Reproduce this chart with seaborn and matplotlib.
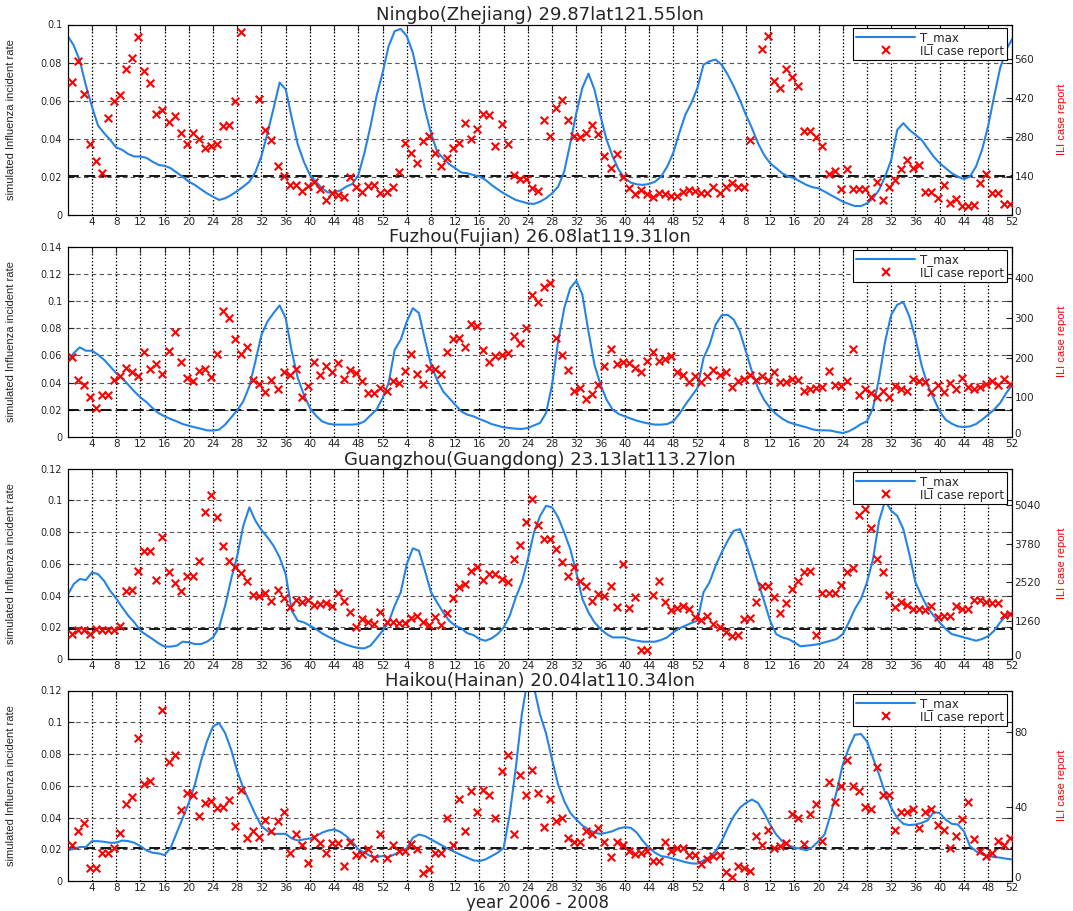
import numpy as np
import matplotlib
matplotlib.use('Agg')
import matplotlib.pyplot as plt
import matplotlib.transforms as mtransforms
from matplotlib.lines import Line2D
import seaborn as sns

nan = np.nan

titles = ["Ningbo(Zhejiang) 29.87lat121.55lon",
          "Fuzhou(Fujian) 26.08lat119.31lon",
          "Guangzhou(Guangdong) 23.13lat113.27lon",
          "Haikou(Hainan) 20.04lat110.34lon"]

# simulated influenza incident rate (T_max), weeks 0..156
tmax_ningbo = [
    0.094, 0.089, 0.081, 0.068, 0.057, 0.047, 0.043, 0.0395, 0.0355, 0.0342,
    0.032, 0.0307, 0.0307, 0.030, 0.028, 0.0263, 0.0258, 0.0246, 0.0223, 0.020,
    0.0175, 0.0158, 0.0135, 0.0114, 0.0096, 0.0079, 0.0088, 0.0105, 0.0126, 0.0149,
    0.0175, 0.0225, 0.031, 0.043, 0.056, 0.0695, 0.066, 0.051, 0.037, 0.028,
    0.021, 0.0175, 0.014, 0.0118, 0.0118, 0.0128, 0.0149, 0.0163, 0.021, 0.0325,
    0.0465, 0.0623, 0.0746, 0.0886, 0.0965, 0.0977, 0.0939, 0.0851, 0.071, 0.0553,
    0.043, 0.0333, 0.0298, 0.0267, 0.0246, 0.0223, 0.0219, 0.021, 0.0202, 0.0184,
    0.0158, 0.0135, 0.0114, 0.0096, 0.0079, 0.007, 0.0061, 0.0058, 0.007, 0.0088,
    0.0114, 0.0149, 0.0228, 0.0377, 0.0535, 0.0667, 0.0742, 0.0658, 0.0518, 0.0395,
    0.0307, 0.0237, 0.0193, 0.017, 0.0161, 0.0158, 0.0163, 0.0175, 0.0202, 0.0254,
    0.0325, 0.043, 0.0526, 0.0588, 0.0667, 0.0789, 0.0807, 0.0816, 0.0789, 0.0737,
    0.0675, 0.0605, 0.0526, 0.0456, 0.0377, 0.0316, 0.0272, 0.0246, 0.0219, 0.0202,
    0.0193, 0.0175, 0.0158, 0.0146, 0.014, 0.0123, 0.0105, 0.0088, 0.007, 0.0058,
    0.0047, 0.0047, 0.0061, 0.0088, 0.0132, 0.0202, 0.0289, 0.0447, 0.0482, 0.0447,
    0.0421, 0.0395, 0.0351, 0.0307, 0.0272, 0.0246, 0.0219, 0.0202, 0.0188, 0.0202,
    0.0254, 0.0342, 0.0465, 0.0623, 0.0772, 0.0868, 0.0925]

tmax_fuzhou = [
    0.0556, 0.0617, 0.0659, 0.0634, 0.0634, 0.0605, 0.0568, 0.0519, 0.047, 0.0433,
    0.0384, 0.0335, 0.0291, 0.0257, 0.0213, 0.0176, 0.0152, 0.0132, 0.0115, 0.0095,
    0.0083, 0.0071, 0.0061, 0.0049, 0.0047, 0.0054, 0.0091, 0.0144, 0.0196, 0.0262,
    0.0372, 0.0556, 0.0751, 0.0849, 0.0911, 0.0967, 0.0874, 0.0629, 0.0433, 0.0311,
    0.0213, 0.0157, 0.0115, 0.0098, 0.0091, 0.0091, 0.0091, 0.0091, 0.0095, 0.0115,
    0.0159, 0.0201, 0.0286, 0.0397, 0.0641, 0.0715, 0.0849, 0.0947, 0.0911, 0.0715,
    0.0531, 0.0421, 0.0335, 0.0286, 0.0237, 0.0188, 0.0164, 0.0152, 0.0132, 0.0115,
    0.0095, 0.0083, 0.0071, 0.0066, 0.0061, 0.0059, 0.0066, 0.0085, 0.0103, 0.0176,
    0.0384, 0.0703, 0.0947, 0.1094, 0.1148, 0.1045, 0.0776, 0.0531, 0.0384, 0.0274,
    0.0201, 0.0169, 0.0152, 0.0135, 0.012, 0.0108, 0.0098, 0.0091, 0.0091, 0.0095,
    0.0115, 0.0169, 0.0237, 0.0299, 0.036, 0.058, 0.0678, 0.0825, 0.0894, 0.0898,
    0.0862, 0.0776, 0.0629, 0.0482, 0.036, 0.0274, 0.0213, 0.0169, 0.0135, 0.011,
    0.0095, 0.0083, 0.0071, 0.0056, 0.0049, 0.0049, 0.0047, 0.0037, 0.0029, 0.0042,
    0.0066, 0.0095, 0.0115, 0.0213, 0.0433, 0.0703, 0.0898, 0.0972, 0.0991, 0.0886,
    0.0727, 0.0531, 0.0384, 0.0286, 0.0188, 0.0127, 0.0098, 0.0078, 0.0073, 0.0078,
    0.0095, 0.0127, 0.0164, 0.0201, 0.025, 0.0323, 0.0384]

tmax_guangzhou = [
    0.0405, 0.0472, 0.0504, 0.0497, 0.0545, 0.0535, 0.0493, 0.043, 0.0382, 0.0325,
    0.0273, 0.0231, 0.0178, 0.0151, 0.0126, 0.0099, 0.0078, 0.0078, 0.0084, 0.0109,
    0.0105, 0.0094, 0.0094, 0.0109, 0.0136, 0.0199, 0.0336, 0.0504, 0.065, 0.0839,
    0.0955, 0.0871, 0.0812, 0.0766, 0.0713, 0.064, 0.0535, 0.0304, 0.0241, 0.0231,
    0.021, 0.0189, 0.0162, 0.0141, 0.0122, 0.0105, 0.009, 0.0078, 0.0069, 0.0067,
    0.0084, 0.013, 0.0178, 0.0231, 0.0336, 0.042, 0.0598, 0.0697, 0.0682, 0.0556,
    0.042, 0.0357, 0.0294, 0.0241, 0.021, 0.0193, 0.0162, 0.0151, 0.0126, 0.0115,
    0.013, 0.0157, 0.0199, 0.0273, 0.0388, 0.0483, 0.0629, 0.0797, 0.090, 0.0965,
    0.0955, 0.0892, 0.0797, 0.0692, 0.0545, 0.0378, 0.0294, 0.0231, 0.0189, 0.0157,
    0.0136, 0.0136, 0.0136, 0.0122, 0.0115, 0.0109, 0.0109, 0.0109, 0.012, 0.0136,
    0.0168, 0.0193, 0.021, 0.0227, 0.0241, 0.042, 0.0483, 0.0587, 0.0671, 0.0745,
    0.0808, 0.0818, 0.0724, 0.0608, 0.0483, 0.0367, 0.0241, 0.0157, 0.0136, 0.0126,
    0.0105, 0.008, 0.0084, 0.0088, 0.0094, 0.0105, 0.0115, 0.0126, 0.0157, 0.0231,
    0.0315, 0.0378, 0.0483, 0.0629, 0.0871, 0.0997, 0.0934, 0.0902, 0.0818, 0.0661,
    0.0483, 0.0399, 0.0325, 0.0273, 0.0231, 0.0189, 0.0157, 0.0147, 0.0136, 0.0126,
    0.0115, 0.0126, 0.0143, 0.0178, 0.0231, 0.0273, 0.0294]

tmax_haikou = [
    0.0193, 0.0205, 0.0214, 0.0214, 0.0251, 0.0251, 0.0247, 0.0241, 0.0241, 0.0255,
    0.0251, 0.0241, 0.022, 0.0193, 0.0178, 0.0174, 0.0163, 0.0209, 0.0304, 0.0398,
    0.0492, 0.0607, 0.0754, 0.088, 0.0974, 0.0995, 0.0932, 0.0827, 0.0691, 0.0586,
    0.0503, 0.0419, 0.0346, 0.0314, 0.0297, 0.0297, 0.0297, 0.0268, 0.0255, 0.0262,
    0.0268, 0.0283, 0.0304, 0.0318, 0.0325, 0.031, 0.0283, 0.0247, 0.0199, 0.0178,
    0.0157, 0.0151, 0.0157, 0.0151, 0.0168, 0.0188, 0.0205, 0.0272, 0.0293, 0.0283,
    0.0262, 0.0241, 0.022, 0.0199, 0.0182, 0.0163, 0.0147, 0.013, 0.0126, 0.0136,
    0.0157, 0.0178, 0.0209, 0.042, 0.071, 0.105, 0.128, 0.122, 0.105, 0.093,
    0.0764, 0.0607, 0.0503, 0.0429, 0.0387, 0.035, 0.0325, 0.0304, 0.0297, 0.0304,
    0.0314, 0.0331, 0.0339, 0.0335, 0.0304, 0.0251, 0.0209, 0.0178, 0.0157, 0.0151,
    0.014, 0.013, 0.0119, 0.0111, 0.0109, 0.013, 0.0151, 0.0188, 0.0251, 0.0335,
    0.0408, 0.0461, 0.0492, 0.0513, 0.0492, 0.0429, 0.0356, 0.0293, 0.0251, 0.0226,
    0.0209, 0.0205, 0.0193, 0.0214, 0.0251, 0.0293, 0.0419, 0.0565, 0.0733, 0.0838,
    0.0921, 0.0926, 0.088, 0.0775, 0.067, 0.0555, 0.0461, 0.0398, 0.036, 0.0352,
    0.0356, 0.0366, 0.0381, 0.0433, 0.0429, 0.0387, 0.036, 0.0356, 0.0314, 0.022,
    0.0188, 0.0168, 0.0157, 0.0151, 0.0147, 0.014, 0.0136]

# ILI case reports, weeks 1..156
ili_ningbo = [
    480, 554, 436, 255, 195, 150, 351, 409, 431, 526,
    566, 641, 520, 477, 363, 377, 336, 357, 297, 256,
    295, 273, 240, 247, 255, 319, 325, 412, 658, nan,
    nan, 419, 307, 271, 177, 141, 108, 108, 88, 105,
    120, 94, 54, 81, 72, 66, 136, 100, 84, 105,
    107, 81, 83, 102, 156, 261, 223, 189, 265, 283,
    225, 175, 205, 243, 259, 331, 273, 309, 363, 361,
    247, 327, 256, 144, 130, 130, 96, 88, 343, 283,
    384, 413, 343, 285, 280, 297, 325, 292, 211, 168,
    219, 138, 96, 75, 90, 75, 66, 81, 75, 69,
    69, 82, 90, 87, 81, 78, 100, 81, 100, 117,
    100, 100, 271, nan, 598, 646, 481, 457, 526, 497,
    466, 304, 304, 280, 249, 148, 160, 94, 165, 93,
    93, 93, 66, 120, 54, 102, 126, 165, 199, 168,
    181, 84, 84, 60, 108, 45, 58, 34, 34, 36,
    114, 148, 81, 81, 40, 40]

ili_fuzhou = [
    201, 143, 130, 101, 73, 105, 107, 143, 153, 174,
    164, 153, 214, 171, 184, 159, 217, 264, 189, 149,
    142, 167, 171, 150, 209, 318, 301, 248, 209, 227,
    144, 133, 113, 144, 121, 165, 157, 172, 100, 128,
    190, 157, 178, 165, 186, 147, 168, 161, 140, 112,
    112, 123, 115, 140, 136, 167, 210, 159, 134, 174,
    172, 159, 214, 247, 249, 228, 284, 279, 218, 190,
    203, 206, 211, 255, 237, 274, 357, 340, 377, 388,
    249, 207, 168, 117, 123, 96, 108, 130, 178, 222,
    184, 189, 186, 174, 164, 192, 214, 192, 196, 205,
    165, 155, 138, 154, 138, 154, 168, 155, 164, 125,
    142, 147, 155, 144, 153, 144, 163, 138, 138, 147,
    144, 117, 121, 123, 125, 167, 132, 128, 140, 221,
    105, 122, 111, 101, 115, 102, 128, 121, 117, 147,
    140, 138, 113, 130, 113, 136, 121, 148, 125, 122,
    126, 133, 140, 130, 147, 134]

ili_guangzhou = [
    818, 949, 949, 818, 982, 949, 949, 949, 1091, 2237,
    2269, 2891, 3546, 3546, 2597, 3982, 2837, 2477, 2215, 2706,
    2728, 3218, 4822, 5368, 4637, 3688, 3218, 3000, 2815, 2564,
    2106, 2051, 2160, 1909, 2258, 1997, 1691, 1942, 1855, 1931,
    1778, 1800, 1833, 1746, 2149, 1909, 1527, 1036, 1309, 1200,
    1146, 1527, 1200, 1200, 1178, 1178, 1331, 1396, 1200, 1113,
    1364, 1113, 1495, 1986, 2346, 2455, 2891, 3000, 2586, 2782,
    2782, 2618, 2531, 3273, 3742, 4473, 5237, 4386, 3928, 3928,
    3600, 3186, 2706, 3000, 2564, 2378, 1909, 2127, 2073, 2378,
    1713, 3109, 1658, 2040, 295, 295, 2095, 2542, 1877, 1615,
    1658, 1746, 1637, 1386, 1287, 1418, 1146, 1036, 895, 742,
    785, 1309, 1331, 1855, 2378, 2400, 2018, 1495, 1833, 2291,
    2542, 2858, 2891, 785, 2160, 2160, 2160, 2422, 2837, 2978,
    4713, 4910, 4288, 3273, 2837, 2095, 1691, 1877, 1767, 1637,
    1637, 1604, 1724, 1386, 1396, 1418, 1746, 1637, 1637, 1942,
    1942, 1877, 1833, 1833, 1451, 1473]

ili_haikou = [
    19.3, 27.1, 31.2, 7.1, 7.1, 14.8, 14.8, 17.9, 25.9, 41.1,
    45.0, 76.8, 52.1, 53.9, nan, 91.9, 63.9, 67.8, 38.0, 47.3,
    46.4, 34.8, 41.9, 42.8, 39.3, 39.6, 43.7, 29.8, 49.1, 23.2,
    27.1, 23.7, 33.0, 27.1, 32.1, 37.1, 14.8, 25.0, 19.1, 9.8,
    23.7, 20.2, 14.8, 20.2, 20.2, 8.0, 21.1, 13.9, 14.6, 17.0,
    12.5, 25.3, 12.5, 19.1, 16.1, 16.1, 20.0, 17.3, 4.1, 6.2,
    14.8, 14.8, 33.9, 19.1, 44.1, 27.1, 48.2, 37.1, 49.1, 46.1,
    33.9, 58.9, 67.8, 25.0, 57.1, 46.1, 59.8, 47.0, 28.9, 44.1,
    32.1, 33.6, 23.2, 21.1, 21.1, 27.1, 25.0, 28.2, 21.1, 12.9,
    21.1, 19.3, 16.1, 14.3, 14.8, 16.1, 10.7, 10.7, 20.9, 16.1,
    17.9, 17.9, 13.9, 13.9, 9.3, 12.0, 13.4, 13.7, 5.0, 2.1,
    8.0, 7.1, 5.4, 24.1, 19.1, 27.3, 17.9, 18.7, 20.2, 36.1,
    33.9, 20.0, 36.1, 41.1, 21.4, 53.2, 42.3, 50.9, 65.2, 50.9,
    48.2, 39.8, 38.4, 61.0, 46.1, 46.1, 27.3, 37.1, 37.1, 38.9,
    28.2, 37.1, 38.9, 30.0, 27.3, 17.9, 24.1, 33.4, 42.3, 22.3,
    16.1, 13.4, 14.8, 21.4, 19.3, 23.2]

left_max = [0.1, 0.14, 0.12, 0.12]
right_max = [686, 480, 6240, 102.3]
right_ticks = [[0, 140, 280, 420, 560], [0, 100, 200, 300, 400],
               [0, 1260, 2520, 3780, 5040], [0, 40, 80]]
thresholds = [0.0206, 0.0200, 0.0189, 0.0205]

tmax_all = [tmax_ningbo, tmax_fuzhou, tmax_guangzhou, tmax_haikou]
ili_all = [ili_ningbo, ili_fuzhou, ili_guangzhou, ili_haikou]

week_line = np.arange(0, 157)
week_ili = np.arange(1, 157) - 0.35
xticks = np.arange(4, 157, 4)
xticklabels = [str((t - 1) % 52 + 1) for t in xticks]

sns.set_style('white')
plt.rcParams['font.family'] = ['DejaVu Sans']

BLUE = '#2583e6'
W, H = 1073, 911
fig = plt.figure(figsize=(W / 100, H / 100), dpi=100)

ax_left = 67.7 / W
ax_w = 944.6 / W
ax_h = 190.5 / H
tops = [24.5, 246.5, 468.5, 690.5]
lift = mtransforms.ScaledTranslation(0, 3.2 / 72, fig.dpi_scale_trans)

for i in range(4):
    bottom = 1 - (tops[i] + 190.5) / H
    ax = fig.add_axes([ax_left, bottom, ax_w, ax_h])
    ax2 = ax.twinx()

    # grid
    ax.set_axisbelow(True)
    for t in xticks:
        ax.axvline(t, color='black', ls=(0, (1.2, 1.6)), lw=0.9, zorder=0.5)
    yt = np.round(np.arange(0, left_max[i] + 1e-9, 0.02), 2)
    for v in yt[1:]:
        if v < left_max[i] - 1e-9:
            ax.axhline(v, color='#555555', ls=(0, (4, 3)), lw=0.8, zorder=0.5)
    ax.axhline(thresholds[i], color='black', ls=(0, (6, 3)), lw=1.3, zorder=1)

    sns.lineplot(x=week_line, y=tmax_all[i], ax=ax, color=BLUE, lw=1.5,
                 estimator=None, sort=False, legend=False, zorder=3)
    sns.scatterplot(x=week_ili, y=ili_all[i], ax=ax2, marker='x', color='red',
                    s=30, linewidth=1.5, legend=False, zorder=4)

    ax.set_xlim(0, 156)
    ax.set_ylim(0, left_max[i])
    ax2.set_ylim(0, right_max[i])
    ax.set_xticks(xticks)
    ax.set_xticklabels(xticklabels)
    ax.set_yticks(yt)
    ax.set_yticklabels([f'{v:g}' for v in yt])
    ax2.set_yticks(right_ticks[i])
    ax2.set_yticklabels([str(v) for v in right_ticks[i]])

    ax.tick_params(axis='x', direction='in', length=4, width=0.8, top=True,
                   labelsize=7.5, pad=1.5)
    ax.tick_params(axis='y', direction='in', length=4, width=0.8, right=True,
                   labelsize=7, pad=4)
    ax2.tick_params(axis='y', direction='in', length=4, width=0.8,
                    labelsize=7.5, pad=1.5)
    # the right-hand "0" sits a little above the corner, clear of the "52"
    zero_lbl = ax2.get_yticklabels()[0]
    zero_lbl.set_transform(zero_lbl.get_transform() + lift)

    for a in (ax, ax2):
        for sp in a.spines.values():
            sp.set_color('black')
            sp.set_linewidth(0.8)
    ax.set_xlabel('')
    ax.set_ylabel('simulated Influenza incident rate', fontsize=8,
                  family='Liberation Sans')
    ax.yaxis.set_label_coords(-0.0547, 0.5)
    ax2.set_ylabel('ILI case report', fontsize=8, color='red',
                   family='Liberation Sans')
    ax2.yaxis.set_label_coords(1.0473, 0.5)
    ax.set_title(titles[i], fontsize=13, pad=2)

    handles = [Line2D([], [], color=BLUE, lw=1.5),
               Line2D([], [], color='red', marker='x', ls='none', ms=5.5, mew=1.5)]
    leg = ax2.legend(handles, ['T_max', 'ILI case report'], loc='upper right',
                     bbox_to_anchor=(0.9944, 0.9816), borderaxespad=0,
                     fontsize=8.5, frameon=True, fancybox=False,
                     edgecolor='black', framealpha=1, handlelength=5.0,
                     handletextpad=0.4, borderpad=0.25, labelspacing=0.05)
    leg.get_frame().set_linewidth(0.8)

fig.text(0.501, 1 - 902.5 / H, 'year 2006 - 2008', fontsize=12,
         ha='center', va='center')

fig.savefig('out.png', dpi=100)
